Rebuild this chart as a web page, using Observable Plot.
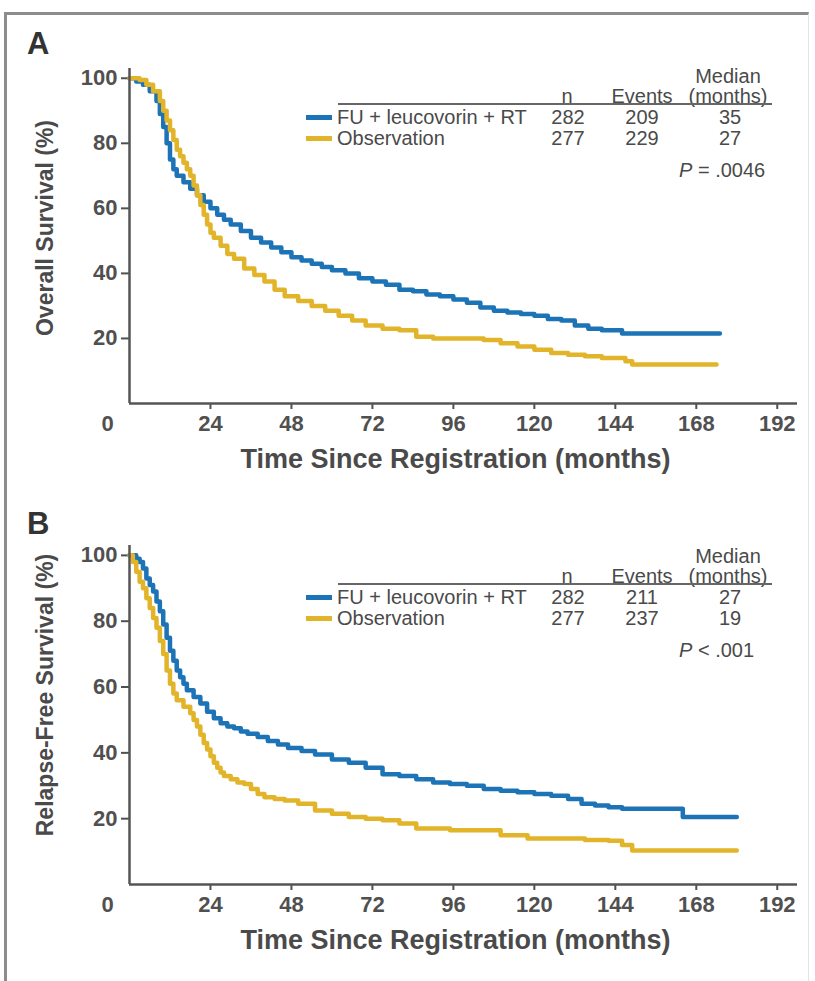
<!DOCTYPE html>
<html><head><meta charset="utf-8">
<script src="https://cdn.jsdelivr.net/npm/d3@7"></script>
<script src="https://cdn.jsdelivr.net/npm/@observablehq/plot@0.6"></script>
<style>
body{margin:0;background:#fff;}
#root{position:relative;width:815px;height:981px;overflow:hidden;font-family:"Liberation Sans",Arial,sans-serif;color:#444;}
#frame{position:absolute;left:4px;top:12px;width:805px;height:980px;border-left:3px solid #8c8c8c;border-top:3px solid #8c8c8c;border-right:1px solid #e4e4e4;box-sizing:border-box;}
.panel{position:absolute;left:0;}
.panel g[aria-label="x-axis tick label"] text, .panel g[aria-label="y-axis tick label"] text{font-weight:bold;}
.t{position:absolute;white-space:nowrap;line-height:1;}
</style></head><body><div id="root"><div id="frame"></div></div>
<script>
// ---- data ----
const groups = ["FU + leucovorin + RT", "Observation"];
const colors = ["#1c73b6", "#e2b42a"];
const xTicks = [24, 48, 72, 96, 120, 144, 168, 192];
const yTicks = [20, 40, 60, 80, 100];

// Panel A: overall survival
const osFuTime = [0,2,4,6,8,9,10,11,12,13,14,16,18,20,22,24,26,28,30,33,36,39,42,45,48,51,54,57,60,64,68,72,76,80,84,88,92,96,100,104,108,112,116,120,124,128,132,136,140,144,146,175];
const osFuSurv = [100,99,98,96,93,89,85,80,75,72,70,68,66,64,62,60,58,56.5,55,53,51,49.5,48,46.5,45,44,43,42,41,40,38.5,37.5,36.5,35,34.5,33.5,33,32,31,29.5,28.5,28,27.5,27,26,25.5,24,23,22.5,22.5,21.5,21.5];
const osObsTime = [0,3,5,7,9,10,11,12,13,14,15,16,17,18,19,20,21,22,23,24,25,27,29,31,34,37,40,43,46,50,54,58,62,66,70,75,80,85,90,95,100,105,110,115,120,125,130,135,140,144,147,149,174];
const osObsSurv = [100,99.5,98,96,93,90,87,84,81,78,76,74,72,70,67,64,61,58,55,52.5,51,48.5,46,44.5,41.5,39.5,37.5,35,33,31.5,30,28.5,27,25.5,24,23,22.5,20.5,20,20,20,19.5,18.5,17.5,16.5,15.5,15,14.5,14,14,13,12,12];

// Panel B: relapse-free survival
const rfsFuTime = [0,2,3,4,5,6,7,8,9,10,11,12,13,14,15,16,17,19,21,23,25,27,29,31,33,35,38,41,44,47,51,55,60,65,70,75,80,85,90,95,100,105,110,115,120,125,130,134,138,142,146,150,155,160,164,180];
const rfsFuSurv = [100,99,98,96,93,91,89,86,83,79,75,71,68,65,63,61,59,57,55,52.5,50.5,49,48,47.5,46.5,45.8,44.8,43.6,42.5,41.5,40.6,39.5,38,37,35.5,33.5,33,32,31,30.5,30,29,28.5,28,27.5,27,26,24.5,24,23.5,23,23,23,23,20.5,20.5];
const rfsObsTime = [0,1,2,3,4,5,6,7,8,9,10,11,12,13,14,16,18,19,20,21,22,23,24,25,26,27,28,30,32,34,36,38,40,43,46,50,55,60,65,70,75,80,85,90,95,100,110,118,125,135,142,146,149,180];
const rfsObsSurv = [100,98,95,92,90,87,84,81,78,74,70,65,61,58,56,54,52,50,48,45.5,43,41,39,37,35.5,34,33,32,31,30.5,29,27.5,26.5,26,25.5,24.5,22.5,21.5,20.5,20,19.5,18.5,17,17,16.5,16.5,15,14,14,13.5,13.3,12,10.3,10.3];

// Legend tables
const tableN = [282, 277];
const osEvents = [209, 229];
const osMedian = [35, 27];
const rfsEvents = [211, 237];
const rfsMedian = [27, 19];
const osP = ".0046";
const rfsP = ".001";

// ---- build ----
const root = document.getElementById("root");
function series(times, vals, g) { return times.map((t, i) => ({t, s: vals[i], g})); }
const FONT = "'Liberation Sans', Arial, sans-serif";

function label(text, x, y, align, css = "") {
  const el = document.createElement("div");
  el.className = "t";
  el.style.cssText = `left:${x}px;top:${y}px;transform:translate(${align === "left" ? "0" : align === "right" ? "-100%" : "-50%"},-50%);${css}`;
  el.innerHTML = text;
  root.appendChild(el);
}

function panel(opts) {
  const chart = Plot.plot({
    width: 815, height: opts.height,
    marginLeft: 129, marginRight: 18, marginTop: opts.mt, marginBottom: opts.mb,
    style: {fontFamily: FONT, color: "#505050", background: "transparent", overflow: "visible"},
    x: {domain: [0, 198]},
    y: {domain: [0, 103]},
    color: {domain: groups, range: colors},
    marks: [
      Plot.axisX({ticks: xTicks, tickSize: 6, tickPadding: 6, fontSize: 22, strokeWidth: 2, label: null}),
      Plot.axisY({ticks: yTicks, tickSize: 8, tickPadding: 4, fontSize: 22, strokeWidth: 2, label: null}),
      Plot.text([0], {x: d => d, frameAnchor: "bottom", lineAnchor: "top", dy: 12, dx: -22, fontSize: 22, fontWeight: "bold"}),
      Plot.line(opts.data, {x: "t", y: "s", stroke: "g", curve: "step-after", strokeWidth: 4.5}),
      Plot.ruleY([0], {stroke: "#555", strokeWidth: 2.5}),
      Plot.ruleX([0], {stroke: "#555", strokeWidth: 2.5}),
      Plot.text(["Time Since Registration (months)"], {frameAnchor: "bottom", dy: 64, dx: -8, fontSize: 27, fontWeight: "bold", fill: "#4a4a4a"}),
      Plot.text([opts.yLabel], {frameAnchor: "left", textAnchor: "middle", rotate: -90, dx: -84, dy: opts.ydy, fontSize: 23, fontWeight: "bold", fill: "#4a4a4a"})
    ]
  });
  chart.classList.add("panel");
  chart.style.top = opts.top + "px";
  chart.style.position = "absolute";
  root.appendChild(chart);
}

panel({top: 0, height: 480, mt: 68, mb: 77, yLabel: "Overall Survival (%)", ydy: -8,
  data: [...series(osFuTime, osFuSurv, groups[0]), ...series(osObsTime, osObsSurv, groups[1])]});
panel({top: 480, height: 501, mt: 65, mb: 97, yLabel: "Relapse-Free Survival (%)", ydy: -20,
  data: [...series(rfsFuTime, rfsFuSurv, groups[0]), ...series(rfsObsTime, rfsObsSurv, groups[1])]});

function legend(off, events, median, p, pOp, letter) {
  const cs = "font-size:20px;color:#4a4a4a;";
  label(letter, 27, 43 + off, "left", "font-size:31px;font-weight:bold;color:#333;");
  label("Median", 728, 76 + off, "center", cs);
  label("n", 567, 96 + off, "center", cs);
  label("Events", 642, 96 + off, "center", cs);
  label("(months)", 728, 96 + off, "center", cs);
  const rule = document.createElement("div");
  rule.style.cssText = `position:absolute;left:338px;top:${103 + off}px;width:434px;height:2px;background:#666;`;
  root.appendChild(rule);
  [117, 138].forEach((y, i) => {
    const sw = document.createElement("div");
    sw.style.cssText = `position:absolute;left:306px;top:${y + off - 2.5}px;width:26px;height:5px;background:${colors[i]};`;
    root.appendChild(sw);
    label(groups[i], 337, y + off, "left", cs);
    label(String(tableN[i]), 568, y + off, "center", cs);
    label(String(events[i]), 642, y + off, "center", cs);
    label(String(median[i]), 730, y + off, "center", cs);
  });
  label(`<i>P</i> ${pOp} ${p}`, 679, 170 + off, "left", cs);
}
legend(0, osEvents, osMedian, osP, "=", "A");
legend(480, rfsEvents, rfsMedian, rfsP, "&lt;", "B");
</script></body></html>
